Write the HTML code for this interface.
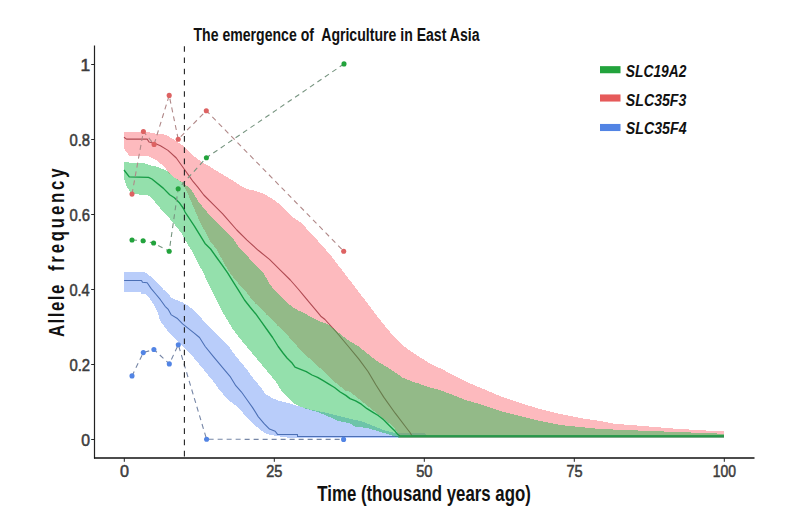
<!DOCTYPE html>
<html><head><meta charset="utf-8"><style>
html,body{margin:0;padding:0;background:#fff;}
svg{display:block;}
text{font-family:"Liberation Sans",sans-serif;}
.tick{font-size:17.2px;fill:#3c3c3c;stroke:#3c3c3c;stroke-width:0.55px;}
.title{font-size:18px;font-weight:bold;fill:#111;}
.xt{font-size:21.6px;font-weight:bold;fill:#111;}
.yt{font-size:22.3px;font-weight:bold;fill:#111;}
.leg{font-size:16.8px;font-weight:bold;font-style:italic;fill:#111;}
</style></head><body>
<svg width="799" height="531" viewBox="0 0 799 531">
<rect width="799" height="531" fill="#fff"/>
<polygon points="124.1,271.9 144.4,271.9 149.1,275.2 153.8,279.0 158.5,283.7 163.2,289.3 168.0,293.1 171.3,297.9 177.0,300.2 182.6,302.4 188.2,305.8 193.9,310.3 199.5,316.0 205.2,322.8 210.8,328.4 216.5,334.1 220.0,337.5 228.0,345.0 235.6,356.0 241.3,362.8 247.0,369.5 252.6,377.5 258.2,384.2 262.8,390.0 265.0,393.7 270.6,397.1 276.3,399.9 282.0,401.6 287.6,402.8 294.4,405.0 298.9,406.2 304.5,407.9 310.2,409.5 315.8,410.7 325.0,412.4 340.0,416.2 350.0,418.9 361.3,421.2 372.6,425.7 383.9,430.2 395.2,433.2 425.0,433.5 428.0,436.0 724.0,436.5 724.0,438.0 290.0,438.0 275.2,435.8 269.5,434.7 263.9,432.5 258.2,428.0 252.6,423.4 247.0,417.8 241.3,411.0 235.6,405.3 230.2,401.5 224.5,395.8 218.9,389.1 213.2,381.2 207.6,374.4 202.0,367.6 196.3,360.8 190.6,354.0 185.0,348.4 182.6,346.5 177.0,340.8 171.3,335.2 165.6,328.4 160.0,320.5 157.5,312.0 153.8,304.4 149.1,297.8 146.2,294.5 141.5,294.0 140.6,292.1 124.1,291.7" fill="rgb(99,144,244)" fill-opacity="0.45" shape-rendering="crispEdges"/><polyline points="124.1,280.4 141.5,280.4 142.5,282.2 147.2,282.7 151.0,288.4 155.7,294.0 160.4,299.7 165.1,306.3 168.0,309.1 171.3,314.9 177.0,318.2 182.6,323.9 188.2,328.4 193.9,332.9 199.5,337.5 205.2,346.5 213.2,356.3 224.5,369.9 230.0,376.3 235.8,385.7 241.3,391.8 247.0,399.7 252.6,407.6 258.2,416.6 263.9,423.4 269.5,429.1 275.2,431.3 277.5,434.4 297.5,434.4 297.5,436.4 724.0,436.4" fill="none" stroke="#4b6fb5" stroke-width="1.05" stroke-linejoin="round"/><polygon points="124.0,131.8 149.7,132.5 157.5,133.9 165.6,134.7 171.3,138.1 176.9,141.5 182.6,145.4 188.2,150.5 195.0,157.0 202.5,162.7 210.1,166.8 217.6,171.4 225.1,175.9 232.7,180.4 237.0,183.2 242.6,187.1 248.2,189.4 253.9,190.5 259.5,192.2 265.2,194.5 270.8,197.9 276.5,201.8 282.1,206.3 287.8,212.0 293.4,217.6 301.3,223.0 312.6,235.0 323.9,247.5 330.0,254.5 341.3,269.2 352.6,283.9 363.9,298.6 370.0,306.8 381.3,321.5 392.6,335.0 403.9,346.3 415.2,354.2 431.3,364.3 442.6,369.4 453.9,375.6 465.2,381.2 476.5,386.3 487.8,390.8 500.0,396.0 520.0,403.0 540.0,409.0 560.0,414.0 580.0,418.0 600.0,421.0 614.4,423.8 639.7,425.7 672.6,428.5 719.5,431.3 724.0,431.3 724.0,438.0 399.0,438.0 397.5,432.5 395.2,429.1 389.5,423.4 383.9,418.9 378.2,414.4 372.6,409.9 367.0,405.3 361.3,400.8 355.6,396.3 350.0,391.8 345.8,390.8 340.2,386.3 334.5,381.8 328.9,376.2 323.2,370.5 317.6,366.0 312.0,360.3 306.3,355.8 300.7,350.1 295.1,343.8 289.5,337.5 283.9,331.8 278.2,326.2 272.6,320.5 266.9,314.9 261.3,309.2 255.6,303.6 250.1,297.2 244.5,289.7 238.9,284.1 233.2,277.3 227.6,269.4 222.0,259.2 216.3,249.0 210.0,241.0 205.7,232.7 201.0,224.0 196.0,213.0 188.6,195.4 182.0,182.6 174.4,177.5 168.8,173.0 165.1,167.4 160.4,163.6 155.7,159.8 149.0,156.5 129.3,155.6 126.5,152.3 124.0,148.5" fill="rgb(250,102,110)" fill-opacity="0.45" shape-rendering="crispEdges"/><polyline points="124.0,137.2 126.5,139.1 147.2,139.1 149.0,142.0 155.7,143.8 160.4,145.7 168.0,150.4 176.3,158.0 183.8,168.5 188.5,175.1 193.2,181.7 198.0,187.3 203.8,195.0 213.2,204.4 222.7,213.8 236.8,230.0 247.0,240.2 258.2,250.3 269.5,259.4 280.8,270.7 290.3,280.0 298.2,289.0 303.9,295.8 309.5,302.6 315.2,309.4 320.8,316.2 325.0,319.5 336.3,332.0 347.6,345.5 358.9,359.1 368.0,371.5 376.0,385.0 383.9,397.4 395.2,413.2 406.5,428.0 410.0,432.5 412.0,436.0 724.0,436.0" fill="none" stroke="#b04a52" stroke-width="1.1" stroke-linejoin="round"/><polygon points="124.0,162.2 146.2,163.6 149.0,165.0 155.7,166.4 168.0,171.1 174.4,177.5 182.0,182.0 188.5,187.3 192.5,191.5 199.1,202.5 203.8,208.2 208.5,213.8 213.2,218.5 218.0,223.2 222.7,228.0 227.4,232.7 232.1,237.4 238.0,246.0 244.5,252.6 252.0,261.5 258.2,267.3 264.0,274.0 270.0,284.5 275.6,291.3 281.3,297.0 286.9,302.6 292.6,307.1 298.2,310.5 303.9,312.8 309.5,316.2 315.2,319.0 320.8,322.0 325.0,323.0 330.6,326.0 336.3,330.8 342.0,335.3 347.6,339.9 353.2,343.2 358.9,346.6 364.5,351.2 370.2,355.7 375.8,360.2 380.0,362.9 385.6,366.3 391.3,369.7 397.0,373.6 402.6,377.6 408.2,379.9 413.9,382.1 419.5,383.8 425.2,386.1 430.8,387.8 440.0,390.0 453.9,395.4 465.2,400.0 480.0,404.0 500.0,411.0 520.0,416.0 540.0,421.0 560.0,425.0 580.0,427.0 600.0,429.0 635.0,430.4 719.5,433.6 724.0,433.6 724.0,438.0 400.0,438.0 389.5,434.7 378.2,431.3 367.0,427.9 355.6,426.8 350.0,423.4 337.8,420.7 318.0,412.0 305.0,408.5 294.4,403.9 287.6,397.1 282.0,391.5 275.2,380.8 269.5,374.1 263.9,367.3 258.2,360.5 252.6,353.7 247.0,347.0 241.3,340.2 233.4,330.0 222.0,311.0 216.3,300.0 208.9,285.0 203.2,272.5 197.6,262.3 191.9,251.0 186.3,242.0 180.6,231.8 178.0,228.8 174.5,224.2 168.8,217.5 163.2,211.8 157.5,205.0 151.9,198.2 147.4,194.9 135.0,194.3 130.4,192.6 127.0,187.0 124.2,179.0" fill="rgb(17,186,70)" fill-opacity="0.45" shape-rendering="crispEdges"/><polyline points="124.0,170.0 129.3,176.8 148.5,177.3 151.9,179.0 163.2,188.1 169.7,194.8 174.4,197.7 179.1,202.4 183.8,209.0 185.0,212.0 194.4,226.1 205.0,243.4 210.6,249.0 216.3,257.0 222.0,264.9 227.6,272.8 233.2,281.8 238.9,290.8 244.5,300.0 250.0,307.0 255.6,313.7 261.3,321.6 266.9,329.5 272.6,337.5 278.2,346.5 283.0,353.0 287.0,358.0 292.3,363.3 295.0,367.1 300.6,369.4 306.3,371.6 312.0,375.0 317.6,377.3 323.2,380.7 328.9,384.1 334.5,387.5 340.2,392.0 345.8,395.4 350.0,398.6 355.6,400.8 361.3,404.2 367.0,408.7 372.6,412.1 378.2,415.5 383.9,420.0 389.5,425.7 395.2,431.3 397.5,434.2 400.0,436.0 724.0,436.0" fill="none" stroke="#169c45" stroke-width="1.35" stroke-linejoin="round"/><polyline points="132.0,240.0 143.1,240.7 153.6,243.0 169.2,251.3 178.2,188.8 206.4,157.7 344.0,63.9" fill="none" stroke="#779580" stroke-width="1.1" stroke-dasharray="5 4"/><circle cx="132" cy="240" r="2.55" fill="#22a33c"/><circle cx="143.1" cy="240.7" r="2.55" fill="#22a33c"/><circle cx="153.6" cy="243" r="2.55" fill="#22a33c"/><circle cx="169.2" cy="251.3" r="2.55" fill="#22a33c"/><circle cx="178.2" cy="188.8" r="2.55" fill="#22a33c"/><circle cx="206.4" cy="157.7" r="2.55" fill="#22a33c"/><circle cx="344" cy="63.9" r="2.55" fill="#22a33c"/><polyline points="132.0,194.1 143.4,131.5 154.1,144.4 169.2,95.4 178.2,139.2 206.3,110.7 343.7,251.2" fill="none" stroke="#b08888" stroke-width="1.1" stroke-dasharray="5 4"/><circle cx="132" cy="194.1" r="2.55" fill="#dd6262"/><circle cx="143.4" cy="131.5" r="2.55" fill="#dd6262"/><circle cx="154.1" cy="144.4" r="2.55" fill="#dd6262"/><circle cx="169.2" cy="95.4" r="2.55" fill="#dd6262"/><circle cx="178.2" cy="139.2" r="2.55" fill="#dd6262"/><circle cx="206.3" cy="110.7" r="2.55" fill="#dd6262"/><circle cx="343.7" cy="251.2" r="2.55" fill="#dd6262"/><polyline points="132.0,375.9 143.3,352.6 153.9,349.5 169.3,363.9 178.3,344.7 206.6,439.3 343.6,439.4" fill="none" stroke="#7686a6" stroke-width="1.1" stroke-dasharray="5 4"/><circle cx="132" cy="375.9" r="2.55" fill="#5284e4"/><circle cx="143.3" cy="352.6" r="2.55" fill="#5284e4"/><circle cx="153.9" cy="349.5" r="2.55" fill="#5284e4"/><circle cx="169.3" cy="363.9" r="2.55" fill="#5284e4"/><circle cx="178.3" cy="344.7" r="2.55" fill="#5284e4"/><circle cx="206.6" cy="439.3" r="2.55" fill="#5284e4"/><circle cx="343.6" cy="439.4" r="2.55" fill="#5284e4"/>
<line x1="94.5" y1="45.5" x2="94.5" y2="458.5" stroke="#222" stroke-width="1.2"/><line x1="94" y1="458" x2="754.5" y2="458" stroke="#111" stroke-width="1.4"/><line x1="91.2" y1="439.5" x2="94.5" y2="439.5" stroke="#222" stroke-width="1"/><text x="81.16" y="445.50" class="tick" textLength="8.75" lengthAdjust="spacingAndGlyphs" >0</text><line x1="91.2" y1="364.5" x2="94.5" y2="364.5" stroke="#222" stroke-width="1"/><text x="69.39" y="370.50" class="tick" textLength="20.69" lengthAdjust="spacingAndGlyphs" >0.2</text><line x1="91.2" y1="289.5" x2="94.5" y2="289.5" stroke="#222" stroke-width="1"/><text x="69.40" y="295.50" class="tick" textLength="20.33" lengthAdjust="spacingAndGlyphs" >0.4</text><line x1="91.2" y1="214.5" x2="94.5" y2="214.5" stroke="#222" stroke-width="1"/><text x="69.40" y="220.50" class="tick" textLength="20.60" lengthAdjust="spacingAndGlyphs" >0.6</text><line x1="91.2" y1="139.5" x2="94.5" y2="139.5" stroke="#222" stroke-width="1"/><text x="69.40" y="145.50" class="tick" textLength="20.60" lengthAdjust="spacingAndGlyphs" >0.8</text><line x1="91.2" y1="64.5" x2="94.5" y2="64.5" stroke="#222" stroke-width="1"/><text x="80.48" y="70.50" class="tick" textLength="9.69" lengthAdjust="spacingAndGlyphs" >1</text><line x1="124.3" y1="458" x2="124.3" y2="461.8" stroke="#222" stroke-width="1"/><text x="119.94" y="477.20" class="tick" textLength="8.98" lengthAdjust="spacingAndGlyphs" >0</text><line x1="274.3" y1="458" x2="274.3" y2="461.8" stroke="#222" stroke-width="1"/><text x="266.24" y="477.20" class="tick" textLength="16.18" lengthAdjust="spacingAndGlyphs" >25</text><line x1="424.3" y1="458" x2="424.3" y2="461.8" stroke="#222" stroke-width="1"/><text x="416.20" y="477.20" class="tick" textLength="16.34" lengthAdjust="spacingAndGlyphs" >50</text><line x1="574.3" y1="458" x2="574.3" y2="461.8" stroke="#222" stroke-width="1"/><text x="566.44" y="477.20" class="tick" textLength="16.18" lengthAdjust="spacingAndGlyphs" >75</text><line x1="724.3" y1="458" x2="724.3" y2="461.8" stroke="#222" stroke-width="1"/><text x="712.85" y="477.20" class="tick" textLength="23.22" lengthAdjust="spacingAndGlyphs" >100</text><line x1="184.4" y1="46.2" x2="184.4" y2="458" stroke="#222" stroke-width="1.1" stroke-dasharray="5.6 5.64"/>
<text x="193.44" y="40.60" class="title" textLength="286.06" lengthAdjust="spacingAndGlyphs" xml:space="preserve">The emergence of  Agriculture in East Asia</text><text x="317.34" y="500.80" class="xt" textLength="213.48" lengthAdjust="spacingAndGlyphs" >Time (thousand years ago)</text><text transform="translate(63.8,337.05) rotate(-90) scale(0.75,1)" x="0" y="0" class="yt" textLength="69.93" lengthAdjust="spacing">Allele</text><text transform="translate(63.8,271.10) rotate(-90) scale(0.75,1)" x="0" y="0" class="yt" textLength="136.88" lengthAdjust="spacing">frequency</text><rect x="600" y="66.15" width="20.5" height="7.1" fill="#22a33c"/><text x="625.84" y="76.60" class="leg" textLength="60.60" lengthAdjust="spacingAndGlyphs" >SLC19A2</text><rect x="600" y="94.45" width="20.5" height="7.1" fill="#e65a5a"/><text x="625.83" y="105.70" class="leg" textLength="60.55" lengthAdjust="spacingAndGlyphs" >SLC35F3</text><rect x="600" y="123.95" width="20.5" height="7.1" fill="#5284e4"/><text x="625.83" y="134.10" class="leg" textLength="60.72" lengthAdjust="spacingAndGlyphs" >SLC35F4</text>
</svg>
</body></html>
